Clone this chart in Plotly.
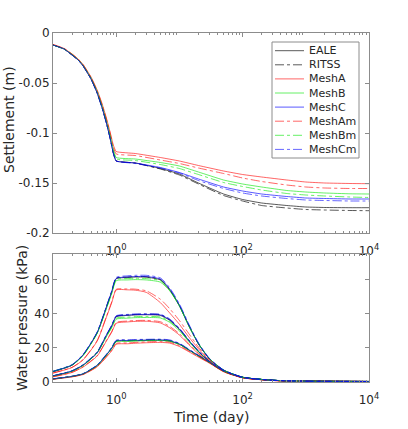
import plotly.graph_objects as go

# time axis (day)
t_settle = [0.1, 0.15, 0.2, 0.25, 0.3, 0.4, 0.5, 0.6, 0.7, 0.8, 0.9, 1,
            2, 5, 10, 20, 50, 100, 200, 500, 1000, 2000, 5000, 10000]
t_press = [0.1, 0.2, 0.3, 0.5, 0.7, 0.85, 1, 1.5, 2, 3, 5, 7, 10, 14, 20,
           30, 50, 100, 300, 1000, 10000]

# settlement (m)
s_eale = [-0.012, -0.016, -0.022, -0.027, -0.033, -0.046, -0.060, -0.075, -0.090, -0.105, -0.120, -0.128,
          -0.130, -0.1355, -0.141, -0.150, -0.161, -0.1665, -0.170, -0.1725, -0.174, -0.1745, -0.1747, -0.1747]
s_ritss = [-0.012, -0.016, -0.022, -0.027, -0.033, -0.046, -0.060, -0.075, -0.090, -0.105, -0.120, -0.128,
           -0.130, -0.136, -0.142, -0.151, -0.1625, -0.168, -0.1725, -0.175, -0.1765, -0.177, -0.1775, -0.1777]
s_mesha = [-0.0115, -0.0155, -0.021, -0.026, -0.0315, -0.044, -0.057, -0.071, -0.085, -0.099, -0.112, -0.1185,
           -0.1205, -0.1245, -0.128, -0.1325, -0.138, -0.1415, -0.1440, -0.147, -0.149, -0.150, -0.1505, -0.1507]
s_meshb = [-0.012, -0.016, -0.0215, -0.0265, -0.0323, -0.045, -0.0585, -0.073, -0.0875, -0.102, -0.116, -0.1245,
           -0.126, -0.1295, -0.133, -0.139, -0.147, -0.151, -0.154, -0.1575, -0.159, -0.160, -0.1608, -0.161]
s_meshc = [-0.012, -0.016, -0.022, -0.027, -0.033, -0.046, -0.060, -0.075, -0.090, -0.105, -0.120, -0.128,
           -0.130, -0.1345, -0.1395, -0.146, -0.154, -0.158, -0.161, -0.1635, -0.165, -0.1655, -0.166, -0.166]
s_mesham = [-0.0115, -0.0155, -0.021, -0.026, -0.0318, -0.0445, -0.0578, -0.072, -0.086, -0.100, -0.114, -0.121,
            -0.1225, -0.127, -0.1305, -0.135, -0.1405, -0.145, -0.1485, -0.152, -0.154, -0.155, -0.1555, -0.1555]
s_meshbm = [-0.012, -0.016, -0.0215, -0.0268, -0.0326, -0.0455, -0.059, -0.074, -0.0885, -0.103, -0.118, -0.126,
            -0.1275, -0.1315, -0.1355, -0.1415, -0.1495, -0.1535, -0.157, -0.1605, -0.162, -0.163, -0.164, -0.1645]
s_meshcm = [-0.012, -0.016, -0.022, -0.027, -0.033, -0.046, -0.060, -0.075, -0.090, -0.105, -0.120, -0.128,
            -0.1305, -0.135, -0.140, -0.1475, -0.1555, -0.160, -0.163, -0.1655, -0.167, -0.1675, -0.168, -0.168]

# water pressure (kPa), three monitoring points per model
p_eale = [
    [6.0, 9.8, 15.8, 28.8, 43.8, 52.8, 60.5, 61.2, 61.5, 61.4, 59.8, 54.0, 44.6, 33.2, 22.3, 13.4, 6.9, 2.8, 1.0, 0.5, 0.3],
    [3.5, 6.4, 9.9, 17.3, 27.3, 32.8, 38.2, 39.0, 39.3, 39.4, 39.0, 36.2, 30.8, 24.3, 17.9, 11.9, 6.5, 2.7, 1.0, 0.5, 0.3],
    [1.7, 3.2, 4.7, 9.6, 15.8, 19.8, 23.9, 24.1, 24.2, 24.4, 24.5, 24.0, 22.1, 18.8, 15.4, 11.4, 6.4, 2.7, 1.0, 0.5, 0.3],
]
p_ritss = [
    [6.1, 9.9, 15.9, 29.0, 44.0, 53.0, 60.8, 61.5, 61.8, 61.7, 60.1, 54.3, 44.9, 33.4, 22.4, 13.5, 6.9, 2.8, 1.0, 0.5, 0.3],
    [3.6, 6.5, 10.0, 17.4, 27.4, 33.0, 38.5, 39.3, 39.6, 39.7, 39.4, 36.6, 31.2, 24.6, 18.1, 12.0, 6.5, 2.7, 1.0, 0.5, 0.3],
    [1.8, 3.3, 4.8, 9.8, 16.0, 20.0, 24.2, 24.4, 24.5, 24.7, 24.8, 24.3, 22.4, 19.0, 15.5, 11.5, 6.5, 2.7, 1.0, 0.5, 0.3],
]
p_mesha = [
    [5.2, 8.5, 13.0, 24.0, 38.0, 46.5, 53.9, 54.0, 53.8, 52.5, 46.5, 40.5, 33.8, 26.5, 19.5, 12.5, 6.5, 2.5, 0.9, 0.5, 0.3],
    [3.0, 5.6, 8.8, 15.2, 24.0, 29.2, 34.4, 35.2, 35.5, 35.6, 34.6, 31.8, 27.5, 22.0, 16.5, 11.3, 6.0, 2.5, 0.9, 0.5, 0.3],
    [1.6, 3.0, 4.4, 8.9, 14.6, 18.3, 22.1, 22.4, 22.7, 23.0, 23.2, 22.8, 20.8, 17.8, 14.6, 11.0, 6.2, 2.5, 0.9, 0.5, 0.3],
]
p_meshb = [
    [6.2, 10.0, 15.5, 28.5, 43.0, 51.8, 59.3, 59.8, 60.0, 59.8, 58.5, 53.5, 44.5, 33.0, 22.5, 13.5, 7.0, 2.8, 1.0, 0.5, 0.3],
    [3.5, 6.3, 9.7, 17.0, 26.5, 31.8, 36.8, 37.4, 37.7, 37.8, 37.5, 35.0, 30.0, 23.8, 17.6, 11.8, 6.4, 2.7, 1.0, 0.5, 0.3],
    [1.8, 3.3, 4.8, 9.6, 15.7, 19.6, 23.6, 23.8, 24.0, 24.2, 24.3, 23.8, 22.0, 18.8, 15.3, 11.4, 6.4, 2.7, 1.0, 0.5, 0.3],
]
p_meshc = [
    [6.2, 10.0, 16.0, 29.0, 44.0, 53.0, 60.7, 61.5, 61.8, 61.8, 60.3, 54.5, 45.0, 33.5, 22.5, 13.5, 7.0, 2.8, 1.0, 0.5, 0.3],
    [3.6, 6.5, 10.0, 17.0, 27.5, 33.0, 38.4, 39.2, 39.5, 39.6, 39.3, 36.5, 31.0, 24.5, 18.0, 12.0, 6.5, 2.7, 1.0, 0.5, 0.3],
    [1.8, 3.3, 4.8, 9.8, 16.0, 20.0, 24.1, 24.3, 24.4, 24.6, 24.7, 24.2, 22.3, 19.0, 15.5, 11.5, 6.5, 2.7, 1.0, 0.5, 0.3],
]
p_mesham = [
    [5.3, 8.6, 13.2, 24.3, 38.4, 47.0, 54.3, 54.5, 54.4, 53.4, 48.5, 43.0, 36.0, 28.5, 20.5, 13.0, 6.7, 2.6, 0.9, 0.5, 0.3],
    [3.1, 5.7, 9.0, 15.5, 24.4, 29.6, 34.9, 35.7, 36.0, 36.1, 35.3, 32.6, 28.3, 22.6, 16.9, 11.5, 6.1, 2.5, 0.9, 0.5, 0.3],
    [1.7, 3.1, 4.5, 9.1, 14.9, 18.7, 22.6, 22.9, 23.2, 23.5, 23.7, 23.3, 21.3, 18.2, 14.9, 11.2, 6.3, 2.6, 0.9, 0.5, 0.3],
]
p_meshbm = [
    [6.2, 10.0, 15.6, 28.7, 43.2, 52.2, 60.0, 60.6, 60.8, 60.6, 59.4, 54.0, 44.8, 33.3, 22.6, 13.6, 7.0, 2.8, 1.0, 0.5, 0.3],
    [3.5, 6.4, 9.8, 17.2, 26.8, 32.2, 37.4, 38.0, 38.3, 38.4, 38.1, 35.6, 30.5, 24.1, 17.8, 11.9, 6.4, 2.7, 1.0, 0.5, 0.3],
    [1.8, 3.3, 4.8, 9.7, 15.9, 19.9, 23.9, 24.1, 24.3, 24.5, 24.6, 24.1, 22.2, 19.0, 15.4, 11.5, 6.5, 2.7, 1.0, 0.5, 0.3],
]
p_meshcm = [
    [6.3, 10.2, 16.2, 29.3, 44.3, 53.5, 61.3, 62.2, 62.5, 62.5, 61.0, 55.3, 45.8, 34.2, 23.0, 13.8, 7.1, 2.8, 1.0, 0.5, 0.3],
    [3.7, 6.6, 10.2, 17.7, 27.8, 33.4, 38.8, 39.6, 39.9, 40.0, 39.7, 37.0, 31.5, 24.8, 18.2, 12.1, 6.6, 2.7, 1.0, 0.5, 0.3],
    [1.9, 3.4, 5.0, 10.0, 16.3, 20.4, 24.5, 24.7, 24.9, 25.0, 25.1, 24.7, 22.7, 19.3, 15.7, 11.6, 6.6, 2.7, 1.0, 0.5, 0.3],
]

names = ["EALE", "RITSS", "MeshA", "MeshB", "MeshC", "MeshAm", "MeshBm", "MeshCm"]
settle = [s_eale, s_ritss, s_mesha, s_meshb, s_meshc, s_mesham, s_meshbm, s_meshcm]
press = [p_eale, p_ritss, p_mesha, p_meshb, p_meshc, p_mesham, p_meshbm, p_meshcm]
colors = ["rgba(0,0,0,0.65)", "rgba(0,0,0,0.65)",
          "rgba(255,0,0,0.6)", "rgba(0,230,0,0.6)", "rgba(0,0,255,0.65)",
          "rgba(255,0,0,0.6)", "rgba(0,230,0,0.6)", "rgba(0,0,255,0.6)"]
dashes = ["solid", "dashdot", "solid", "solid", "solid", "dashdot", "dashdot", "dashdot"]

# pixel layout of the 408x429 canvas
L, R, T, B = 53, 369, 33, 382
def px(x):
    return (x - L) / (R - L)
def py(y):
    return (B - y) / (B - T)

fig = go.Figure()

for name, s, p, c, d in zip(names, settle, press, colors, dashes):
    fig.add_trace(go.Scatter(x=t_settle, y=s, mode="lines", name=name, legendgroup=name,
                             line=dict(color=c, width=1, dash=d, shape="spline", smoothing=0.4),
                             xaxis="x", yaxis="y"))
    for curve in p:
        fig.add_trace(go.Scatter(x=t_press, y=curve, mode="lines", name=name, legendgroup=name,
                                 showlegend=False,
                                 line=dict(color=c, width=1, dash=d, shape="spline", smoothing=0.6),
                                 xaxis="x2", yaxis="y2"))

axcol = "#8c8c8c"
txtcol = "#262626"
minor_vals = [m * 10 ** e for e in range(-1, 4) for m in range(2, 10)]
common = dict(showline=True, linecolor=axcol, linewidth=1, mirror="ticks", ticks="inside",
              ticklen=4, tickcolor=axcol, showgrid=False, zeroline=False,
              tickfont=dict(size=12, color=txtcol))
xlog = dict(type="log", range=[-1, 4], tickvals=[1, 100, 10000],
            ticktext=["10<sup>0</sup>", "10<sup>2</sup>", "10<sup>4</sup>"],
            ticklabelstandoff=7,
            minor=dict(ticks="inside", ticklen=2, tickcolor=axcol, tickvals=minor_vals, showgrid=False),
            **common)

# hand-built legend box (compact rows like the original)
shapes = [dict(type="rect", xref="paper", yref="paper", x0=px(272), x1=px(359), y0=py(158), y1=py(42),
               line=dict(color=axcol, width=1), fillcolor="white", layer="above")]
annotations = []
for i, (name, c, d) in enumerate(zip(names, colors, dashes)):
    yc = 50.7 + 14.1 * i
    shapes.append(dict(type="line", xref="paper", yref="paper", x0=px(275), x1=px(304),
                       y0=py(yc), y1=py(yc), line=dict(color=c, width=1, dash=d), layer="above"))
    annotations.append(dict(text=name, xref="paper", yref="paper", x=px(307), y=py(yc),
                            xanchor="left", yanchor="middle", showarrow=False,
                            font=dict(size=11, color=txtcol)))

annotations += [
    dict(text="Settlement (m)", xref="paper", yref="paper", textangle=-90,
         x=px(9), y=py(120), xanchor="center", yanchor="middle",
         showarrow=False, font=dict(size=14, color=txtcol)),
    dict(text="Water pressure (kPa)", xref="paper", yref="paper", textangle=-90,
         x=px(22), y=py(318), xanchor="center", yanchor="middle",
         showarrow=False, font=dict(size=14, color=txtcol)),
    dict(text="Time (day)", xref="paper", yref="paper",
         x=0.5, y=py(417), xanchor="center", yanchor="middle",
         showarrow=False, font=dict(size=14, color=txtcol)),
]

fig.update_layout(
    width=408, height=429,
    margin=dict(l=L, r=408 - R, t=T, b=429 - B),
    paper_bgcolor="white", plot_bgcolor="white",
    font=dict(family="DejaVu Sans", size=12, color=txtcol),
    xaxis=dict(domain=[0, 1], anchor="y", **xlog),
    yaxis=dict(domain=[py(233), 1], anchor="x", range=[-0.2, 0],
               tickvals=[-0.2, -0.15, -0.1, -0.05, 0],
               ticktext=["-0.2", "-0.15", "-0.1", "-0.05", "0"], **common),
    xaxis2=dict(domain=[0, 1], anchor="y2", **xlog),
    yaxis2=dict(domain=[0, py(254)], anchor="x2", range=[0, 75],
                tickvals=[0, 20, 40, 60], **common),
    showlegend=False,
    shapes=shapes,
    annotations=annotations,
)

fig.write_html("out.html", config={"displayModeBar": False},
               post_script="document.body.style.margin='0';")
